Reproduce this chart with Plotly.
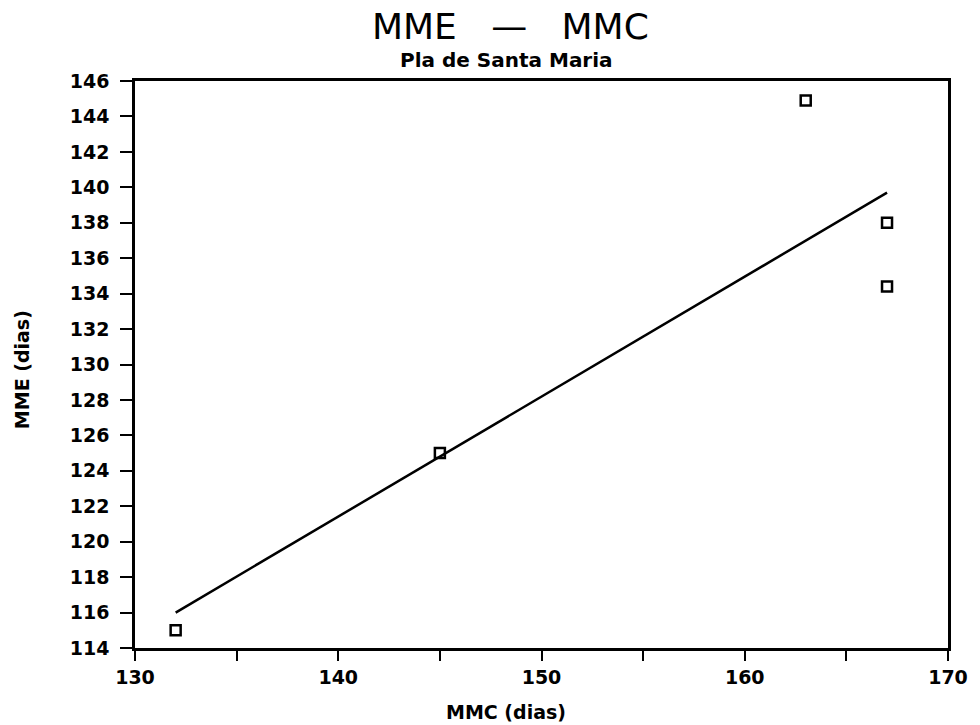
import plotly.graph_objects as go

mmc = [132, 145, 163, 167, 167]
mme = [115, 125, 144.9, 138, 134.4]
fit_x = [132, 167]
fit_y = [116, 139.7]
x_ticks = [130, 140, 150, 160, 170]
y_ticks = list(range(114, 147, 2))

fig = go.Figure()
fig.add_trace(go.Scatter(x=fit_x, y=fit_y, mode="lines",
                         line=dict(color="black", width=2.5), showlegend=False))
fig.add_trace(go.Scatter(x=mmc, y=mme, mode="markers",
                         marker=dict(symbol="square-open", size=10, color="black",
                                     line=dict(width=2.5, color="black")),
                         showlegend=False))

tickfont = dict(family="DejaVu Sans", size=19, color="black", weight="bold")
nb = "\u00a0"
fig.update_layout(
    width=980, height=725,
    margin=dict(l=135, r=27, t=81, b=77),
    paper_bgcolor="white", plot_bgcolor="white",
    font=dict(family="DejaVu Sans", color="black"),
    annotations=[
        dict(text=f"MME{nb*3}—{nb*3}MMC", x=0.462, y=1, xref="paper", yref="paper",
             xanchor="center", yanchor="middle", yshift=55, showarrow=False,
             font=dict(family="DejaVu Sans", size=36, color="black")),
        dict(text="<b>Pla de Santa Maria</b>", x=0.457, y=1, xref="paper", yref="paper",
             xanchor="center", yanchor="middle", yshift=21, showarrow=False,
             font=dict(family="DejaVu Sans", size=20, color="black")),
        dict(text="<b>MMC (dias)</b>", x=0.456, y=0, xref="paper", yref="paper",
             xanchor="center", yanchor="middle", yshift=-64, showarrow=False,
             font=dict(family="DejaVu Sans", size=19, color="black")),
        dict(text="<b>MME (dias)</b>", x=0, y=0.49, xref="paper", yref="paper",
             xanchor="center", yanchor="middle", xshift=-113, textangle=-90,
             showarrow=False,
             font=dict(family="DejaVu Sans", size=19, color="black")),
    ],
)
fig.update_xaxes(range=[130, 170], tickvals=x_ticks, ticktext=[str(v) for v in x_ticks],
                 showgrid=False, zeroline=False, showline=True, linecolor="black",
                 linewidth=2.5, mirror=True, ticks="outside", ticklen=10, tickwidth=2,
                 tickcolor="black", tickfont=tickfont, ticklabelstandoff=0,
                 minor=dict(dtick=5, tick0=130, ticks="outside", ticklen=10, tickwidth=2,
                            tickcolor="black", showgrid=False))
fig.update_yaxes(range=[114, 146], tickvals=y_ticks, ticktext=[str(v) for v in y_ticks],
                 showgrid=False, zeroline=False, showline=True, linecolor="black",
                 linewidth=2.5, mirror=True, ticks="outside", ticklen=12, tickwidth=2,
                 tickcolor="black", tickfont=tickfont, ticklabelstandoff=7)

fig.write_html("out.html")
